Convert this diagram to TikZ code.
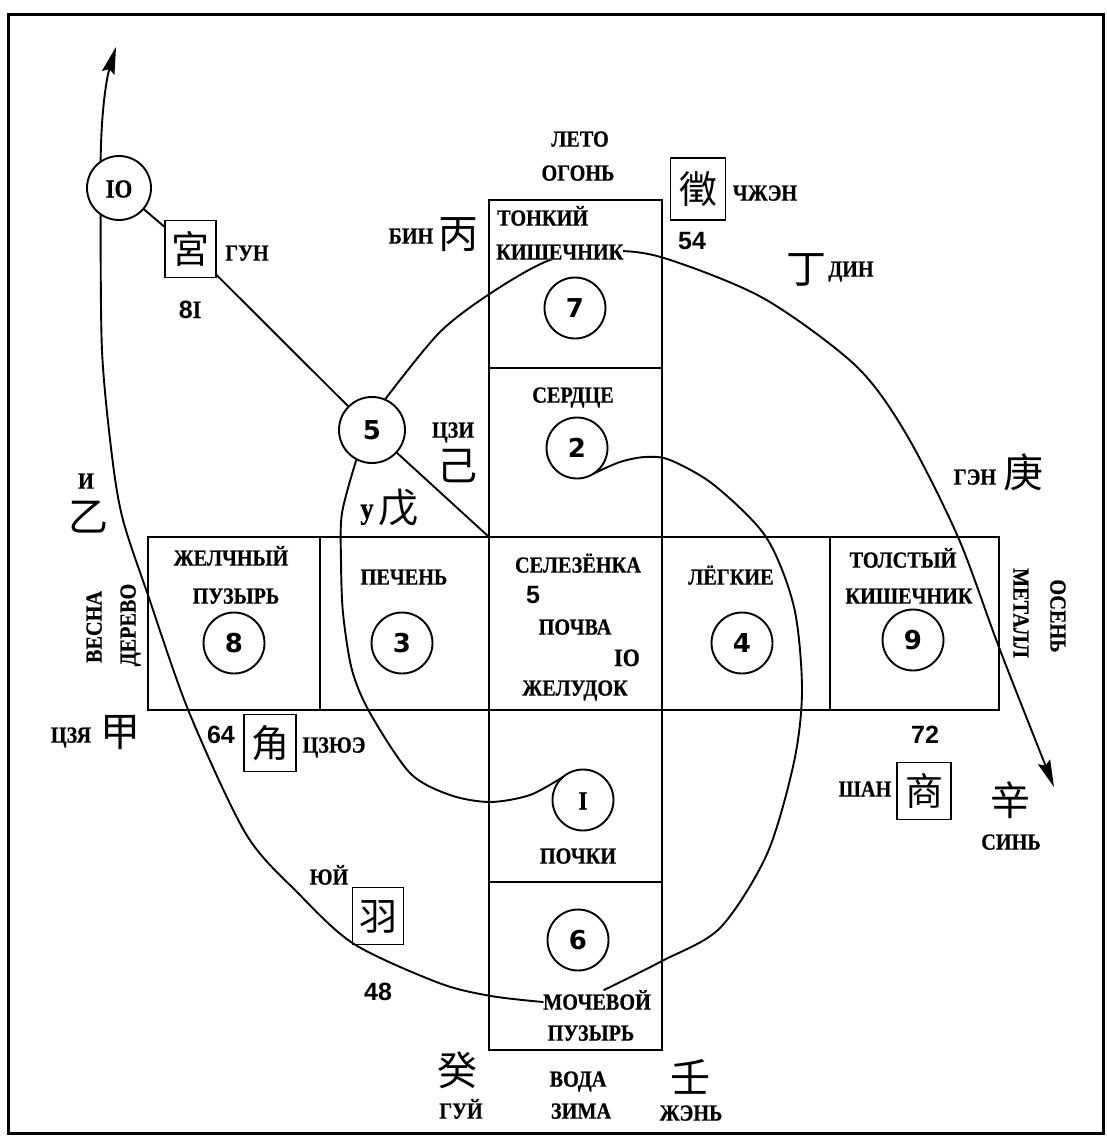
\documentclass[tikz,border=0pt]{standalone}
\usepackage{fontspec}
\usetikzlibrary{arrows.meta}
\newfontfamily\rus[FakeStretch=0.88,BoldFeatures={FakeBold=0.6}]{Liberation Serif}
\newfontfamily\digs{DejaVu Sans}
\newfontfamily\lsans{Liberation Sans}
\newfontfamily\cjk{Noto Sans CJK SC}
\tikzset{
  cell/.style={draw, line width=1.9pt, inner sep=0pt, outer sep=0pt},
  ring/.style={circle, draw, line width=1.9pt, fill=white, inner sep=0pt, outer sep=0pt,
    minimum size=61pt, font=\digs\bfseries\fontsize{26pt}{26pt}\selectfont, text height=19pt, text depth=0pt},
  lbl/.style={inner sep=0pt, font=\rus\bfseries\fontsize{23pt}{23pt}\selectfont, text height=15.2pt, text depth=0pt},
  hz/.style={inner sep=0pt, font=\cjk\fontsize{40pt}{40pt}\selectfont, text height=35pt, text depth=5pt},
  hzbox/.style={draw, line width=1.9pt, fill=white, inner sep=0pt, outer sep=0pt, minimum width=51pt, minimum height=57pt,
    font=\cjk\fontsize{38pt}{38pt}\selectfont, text height=33.4pt, text depth=4.6pt},
  fnum/.style={inner sep=0pt, font=\lsans\bfseries\fontsize{25pt}{25pt}\selectfont, text height=18pt, text depth=0pt},
  curve/.style={line width=1.9pt, line cap=round},
  tipped/.style={-{Stealth[length=27pt,width=13pt,inset=4pt]}},
}
\begin{document}
\begin{tikzpicture}[x=1pt,y=-1pt]
\useasboundingbox (0,0) rectangle (1107,1140);
\fill[white] (0,0) rectangle (1107,1140);
\node[draw, line width=3pt, inner sep=0pt, minimum width=1095pt, minimum height=1118pt] (frame) at (555.5,574) {};

% cells of the cross
\node[cell, minimum width=173pt, minimum height=168pt] (tk) at (575.5,284) {};
\node[cell, minimum width=173pt, minimum height=169pt] (sd) at (575.5,452.5) {};
\node[cell, minimum width=172pt, minimum height=173pt] (gb) at (234,623.5) {};
\node[cell, minimum width=169pt, minimum height=173pt] (pc) at (404.5,623.5) {};
\node[cell, minimum width=173pt, minimum height=173pt] (sl) at (575.5,623.5) {};
\node[cell, minimum width=168pt, minimum height=173pt] (lg) at (746,623.5) {};
\node[cell, minimum width=169pt, minimum height=173pt] (tl) at (914.5,623.5) {};
\node[cell, minimum width=173pt, minimum height=172pt] (pk) at (575.5,796) {};
\node[cell, minimum width=173pt, minimum height=168pt] (mp) at (575.5,966) {};

% numbered circles
\node[ring] (c7) at (575,308) {7};
\node[ring] (c2) at (577,448) {2};
\node[ring] (c8) at (234,643) {8};
\node[ring] (c3) at (402,643) {3};
\node[ring] (c4) at (742,643) {4};
\node[ring] (c9) at (913,640) {9};
\node[ring] (c1) at (583,800) {{\rus I}};
\node[ring] (c6) at (578,940) {6};
\node[ring, minimum size=66pt] (c5) at (372,430) {5};
\node[ring, minimum size=64pt] (c10) at (119,188) {{\rus IO}};

% boxed characters
\node[hzbox] (gong) at (190.5,249) {宮};
\node[hzbox, minimum width=55pt, minimum height=62pt] (zhi) at (698,189) {徵};
\node[hzbox, minimum width=52pt] (jue) at (270,743) {角};
\node[hzbox] (yu) at (378,916) {羽};
\node[hzbox, minimum width=54pt] (shang) at (924,791) {商};

% text anchoring the curves
\node[lbl] (tmv) at (597,1002) {МОЧЕВОЙ};
\coordinate (tipU) at (116,47);
\coordinate (tipR) at (1054,787);
\coordinate (fEnd) at (604,990);

% straight connectors
\draw[curve] (c10) -- (gong);
\draw[curve] (gong) -- (c5);
\draw[curve] (c5) -- (sl.north west);

% curves
\draw[curve, tipped] (c10.125) .. controls (101,115) and (106,80) .. (tipU);
\draw[curve] plot[smooth] coordinates {(c10.235) (102,351) (112,456) (123,520) (149,598) (189,712) (246,834) (298,893) (354,944) (439,983) (491,996) (tmv.west)};
\draw[curve] plot[smooth] coordinates {(c5.242) (342,513) (341,560) (343,613) (352,670) (370,713) (410,773) (450,795) (490,802) (530,795) (c1.130)};
\draw[curve, tipped] plot[smooth] coordinates {(c5.67) (439,333) (491,293) (550,260) (610,251) (664,258) (763,298) (855,365) (905,432) (958,537) (1000,650) (tipR)};
\draw[curve] plot[smooth] coordinates {(c2.303) (620,462) (645,457) (670,460) (714,485) (766,537) (794,607) (802,690) (794,762) (767,854) (720,928) (662,961) (fEnd)};

% labels
\node[lbl] (tleto) at (580,139) {ЛЕТО};
\node[lbl] (togon) at (578,173) {ОГОНЬ};
\node[lbl, anchor=west] (ttk1) at (497,218) {ТОНКИЙ};
\node[lbl, anchor=west, fill=white] (ttk2) at (496,252) {КИШЕЧНИК};
\node[lbl] (tchzhen) at (765,193) {ЧЖЭН};
\node[fnum] (n54) at (692,240) {54};
\node[hz] (hding) at (806,268) {丁};
\node[lbl] (tding) at (851,269) {ДИН};
\node[lbl] (tbin) at (411,236) {БИН};
\node[hz] (hbing) at (458,233) {丙};
\node[lbl] (tgun) at (247,253) {ГУН};
\node[fnum] (n81) at (190,309) {8{\rus I}};
\node[lbl] (tczi) at (453,430) {ЦЗИ};
\node[hz] (hji) at (457,465) {己};
\node[lbl, font=\rus\bfseries\fontsize{30pt}{30pt}\selectfont, text height=13pt] (tu) at (367,512) {у};
\node[hz] (hwu) at (398,507) {戊};
\node[lbl] (ti) at (86,481) {И};
\node[hz] (hyi) at (88,516) {乙};
\node[lbl] (tgen) at (975,477) {ГЭН};
\node[hz] (hgeng) at (1023,472) {庚};
\node[lbl] (tserd) at (573,395) {СЕРДЦЕ};
\node[lbl] (tzh1) at (231,558) {ЖЕЛЧНЫЙ};
\node[lbl] (tzh2) at (236,596) {ПУЗЫРЬ};
\node[lbl] (tpech) at (404,577) {ПЕЧЕНЬ};
\node[lbl] (tsel) at (578,565) {СЕЛЕЗЁНКА};
\node[fnum] (n5) at (533,594) {5};
\node[lbl] (tpochva) at (575,627) {ПОЧВА};
\node[fnum] (n10) at (627,657) {{\rus IO}};
\node[lbl] (tzhel) at (575,688) {ЖЕЛУДОК};
\node[lbl] (tleg) at (731,577) {ЛЁГКИЕ};
\node[lbl] (ttl1) at (903,560) {ТОЛСТЫЙ};
\node[lbl] (ttl2) at (909,596) {КИШЕЧНИК};
\node[lbl, rotate=-90] (tmet) at (1021,613) {МЕТАЛЛ};
\node[lbl, rotate=-90] (tos) at (1058,616) {ОСЕНЬ};
\node[lbl, rotate=90] (tves) at (94,627) {ВЕСНА};
\node[lbl, rotate=90] (tder) at (128,625) {ДЕРЕВО};
\node[lbl] (tczya) at (71,735) {ЦЗЯ};
\node[hz] (hjia) at (120,731) {甲};
\node[fnum] (n64) at (221,734) {64};
\node[lbl] (tczyue) at (334,745) {ЦЗЮЭ};
\node[fnum] (n72) at (925,734) {72};
\node[lbl] (tshan) at (865,789) {ШАН};
\node[hz] (hxin) at (1010,800) {辛};
\node[lbl] (tsin) at (1011,842) {СИНЬ};
\node[lbl] (tpochki) at (578,856) {ПОЧКИ};
\node[lbl] (tyuy) at (329,877) {ЮЙ};
\node[fnum] (n48) at (378,991) {48};
\node[lbl] (tpuz) at (591,1033) {ПУЗЫРЬ};
\node[hz] (hgui) at (457,1070) {癸};
\node[lbl] (tgui) at (461,1111) {ГУЙ};
\node[lbl] (tvoda) at (578,1079) {ВОДА};
\node[lbl] (tzima) at (581,1111) {ЗИМА};
\node[hz] (hren) at (690,1077) {壬};
\node[lbl] (tzhen) at (691,1113) {ЖЭНЬ};
\end{tikzpicture}
\end{document}
